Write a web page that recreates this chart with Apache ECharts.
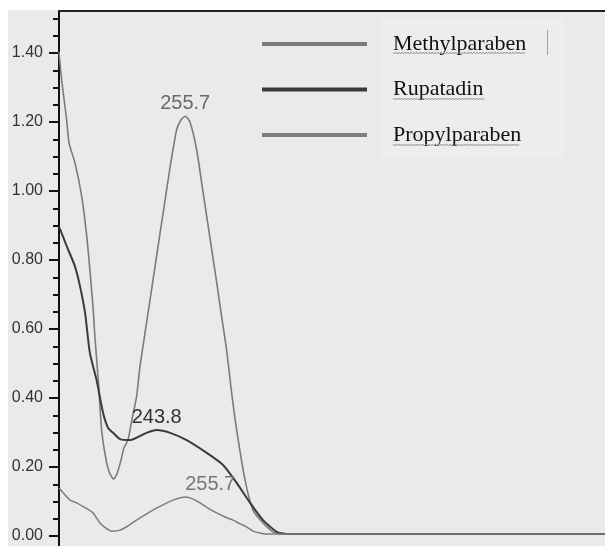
<!DOCTYPE html>
<html>
<head>
<meta charset="utf-8">
<script src="https://cdn.jsdelivr.net/npm/echarts@6/dist/echarts.min.js"></script>
<style>
  html, body { margin: 0; padding: 0; background: #ffffff; }
  #chart { width: 605px; height: 546px; }
</style>
</head>
<body>
<div id="chart"></div>
<script>
// UV absorption spectra (wavelength in nm, absorbance)
const seriesNames = ['Methylparaben', 'Rupatadin', 'Propylparaben'];

const methylWavelength = [203.0, 204.1, 206.2, 207.2, 209.7, 212.5, 214.6, 215.9, 217.3, 218.0, 219.4, 220.8, 222.9, 224.3, 225.8, 227.2, 228.9, 230.1, 231.8, 233.4, 235.4, 236.8, 238.9, 241.0, 243.1, 245.2, 247.3, 249.4, 252.1, 253.9, 255.7, 257.7, 260.5, 262.6, 264.7, 266.8, 268.9, 270.9, 273.0, 275.1, 277.2, 280.7, 284.0, 288.2, 292.4, 295.3, 431.0];
const methylAbsorbance = [1.404, 1.322, 1.206, 1.139, 1.081, 0.984, 0.868, 0.771, 0.655, 0.577, 0.452, 0.307, 0.212, 0.180, 0.165, 0.180, 0.220, 0.255, 0.278, 0.336, 0.404, 0.491, 0.588, 0.684, 0.781, 0.878, 0.974, 1.070, 1.177, 1.206, 1.217, 1.200, 1.119, 1.023, 0.926, 0.829, 0.733, 0.636, 0.539, 0.414, 0.307, 0.162, 0.075, 0.038, 0.012, 0.006, 0.006];

const rupatadinWavelength = [203.0, 206.9, 209.7, 211.8, 213.9, 215.9, 218.7, 221.4, 223.5, 225.6, 228.5, 232.7, 236.0, 239.6, 243.8, 249.4, 256.3, 264.7, 271.5, 277.2, 282.8, 288.2, 293.9, 298.1, 431.0];
const rupatadinAbsorbance = [0.897, 0.829, 0.781, 0.723, 0.646, 0.530, 0.452, 0.357, 0.313, 0.299, 0.281, 0.278, 0.287, 0.299, 0.307, 0.299, 0.278, 0.241, 0.206, 0.154, 0.096, 0.046, 0.012, 0.006, 0.006];

const propylWavelength = [203.0, 207.6, 210.4, 213.4, 217.2, 220.1, 222.6, 225.1, 228.5, 231.8, 235.4, 238.9, 242.2, 246.4, 250.6, 255.7, 259.0, 261.9, 265.2, 268.8, 272.4, 275.7, 278.7, 281.4, 284.0, 286.9, 289.7, 431.0];
const propylAbsorbance = [0.139, 0.104, 0.096, 0.084, 0.067, 0.038, 0.023, 0.014, 0.017, 0.029, 0.046, 0.061, 0.075, 0.090, 0.104, 0.113, 0.107, 0.096, 0.081, 0.067, 0.055, 0.046, 0.035, 0.026, 0.014, 0.009, 0.006, 0.006];

// Annotated absorption maxima
const methylPeak = [255.7, 1.217];
const rupatadinPeak = [243.8, 0.307];
const propylPeak = [255.7, 0.113];

// Axis ticks
const majorTicks = [0, 0.2, 0.4, 0.6, 0.8, 1.0, 1.2, 1.4];
const minorTicks = [0.05, 0.1, 0.15, 0.25, 0.3, 0.35, 0.45, 0.5, 0.55, 0.65, 0.7, 0.75, 0.85, 0.9, 0.95, 1.05, 1.1, 1.15, 1.25, 1.3, 1.35, 1.45, 1.5];

const lineColors = ['#7b7b7b', '#3b3b3b', '#7d7d7d'];
const lineWidths = [1.6, 2, 1.5];

function zip(xs, ys) { return xs.map((x, i) => [x, ys[i]]); }

const numFont = '"Liberation Sans", Arial, sans-serif';

function peakMark(coord, color, offset) {
  return {
    symbol: 'circle',
    symbolSize: 0,
    silent: true,
    label: {
      show: true,
      position: 'top',
      distance: 2,
      offset: offset,
      formatter: String(coord[0]),
      color: color,
      fontFamily: numFont,
      fontSize: 20,
      lineHeight: 22
    },
    data: [{ coord: coord }]
  };
}

// Wavy underline beneath legend words
function squiggle(x0, x1, y) {
  const pts = [];
  let up = true;
  for (let x = x0; x <= x1; x += 1.5) {
    pts.push([x, up ? y - 1 : y + 1]);
    up = !up;
  }
  return {
    type: 'polyline', silent: true, z: 10,
    shape: { points: pts },
    style: { stroke: '#8a8a8a', lineWidth: 0.8, fill: null }
  };
}

const chart = echarts.init(document.getElementById('chart'), null, { renderer: 'canvas' });

const option = {
  animation: false,
  backgroundColor: '#ffffff',
  graphic: [
    { type: 'rect', z: -10, silent: true, shape: { x: 8, y: 10, width: 597, height: 536 }, style: { fill: '#eaeaea' } },
    { type: 'rect', z: -9, silent: true, shape: { x: 380, y: 18, width: 185, height: 140 }, style: { fill: '#ededed' } },
    { type: 'line', silent: true, shape: { x1: 547.5, y1: 30, x2: 547.5, y2: 55 }, style: { stroke: '#a0a0a0', lineWidth: 1 } },
    squiggle(393, 525, 53),
    squiggle(393, 485, 99),
    squiggle(393, 520, 145)
  ],
  grid: { left: 59, right: 0, top: 11, bottom: 0, containLabel: false },
  legend: {
    orient: 'vertical',
    left: 262,
    top: 29,
    padding: 0,
    itemWidth: 105,
    itemHeight: 4,
    itemGap: 15.5,
    icon: 'rect',
    data: seriesNames,
    textStyle: {
      fontFamily: '"Liberation Serif", "Times New Roman", serif',
      fontSize: 22,
      lineHeight: 24,
      color: '#111111',
      padding: [0, 0, 6, 21]
    }
  },
  xAxis: {
    type: 'value',
    position: 'top',
    min: 203,
    max: 431,
    axisLine: { show: true, onZero: false, lineStyle: { color: '#222222', width: 2 } },
    axisTick: { show: false },
    axisLabel: { show: false },
    splitLine: { show: false }
  },
  yAxis: [
    {
      type: 'value',
      min: -0.029,
      max: 1.522,
      axisLine: { show: true, onZero: false, lineStyle: { color: '#111111', width: 2 } },
      axisTick: { show: true, customValues: majorTicks, length: 10, lineStyle: { color: '#111111', width: 2 } },
      axisLabel: {
        show: true,
        customValues: majorTicks,
        formatter: v => v.toFixed(2),
        margin: 16,
        color: '#333333',
        fontFamily: numFont,
        fontSize: 16,
        padding: [5, 0, 0, 0]
      },
      splitLine: { show: false }
    },
    {
      type: 'value',
      min: -0.029,
      max: 1.522,
      position: 'left',
      axisLine: { show: false, onZero: false },
      axisTick: { show: true, customValues: minorTicks, length: 6, lineStyle: { color: '#111111', width: 2 } },
      axisLabel: { show: false },
      splitLine: { show: false }
    }
  ],
  series: [
    {
      name: seriesNames[0],
      type: 'line',
      data: zip(methylWavelength, methylAbsorbance),
      showSymbol: false,
      smooth: 0.2,
      color: lineColors[0],
      lineStyle: { color: lineColors[0], width: lineWidths[0] },
      markPoint: peakMark(methylPeak, '#6a6a6a', [0, 0])
    },
    {
      name: seriesNames[1],
      type: 'line',
      data: zip(rupatadinWavelength, rupatadinAbsorbance),
      showSymbol: false,
      smooth: 0.2,
      color: lineColors[1],
      lineStyle: { color: lineColors[1], width: lineWidths[1] },
      markPoint: peakMark(rupatadinPeak, '#333333', [0, 0])
    },
    {
      name: seriesNames[2],
      type: 'line',
      data: zip(propylWavelength, propylAbsorbance),
      showSymbol: false,
      smooth: 0.2,
      color: lineColors[2],
      lineStyle: { color: lineColors[2], width: lineWidths[2] },
      markPoint: peakMark(propylPeak, '#777777', [25, 0])
    }
  ]
};

chart.setOption(option);
</script>
</body>
</html>
